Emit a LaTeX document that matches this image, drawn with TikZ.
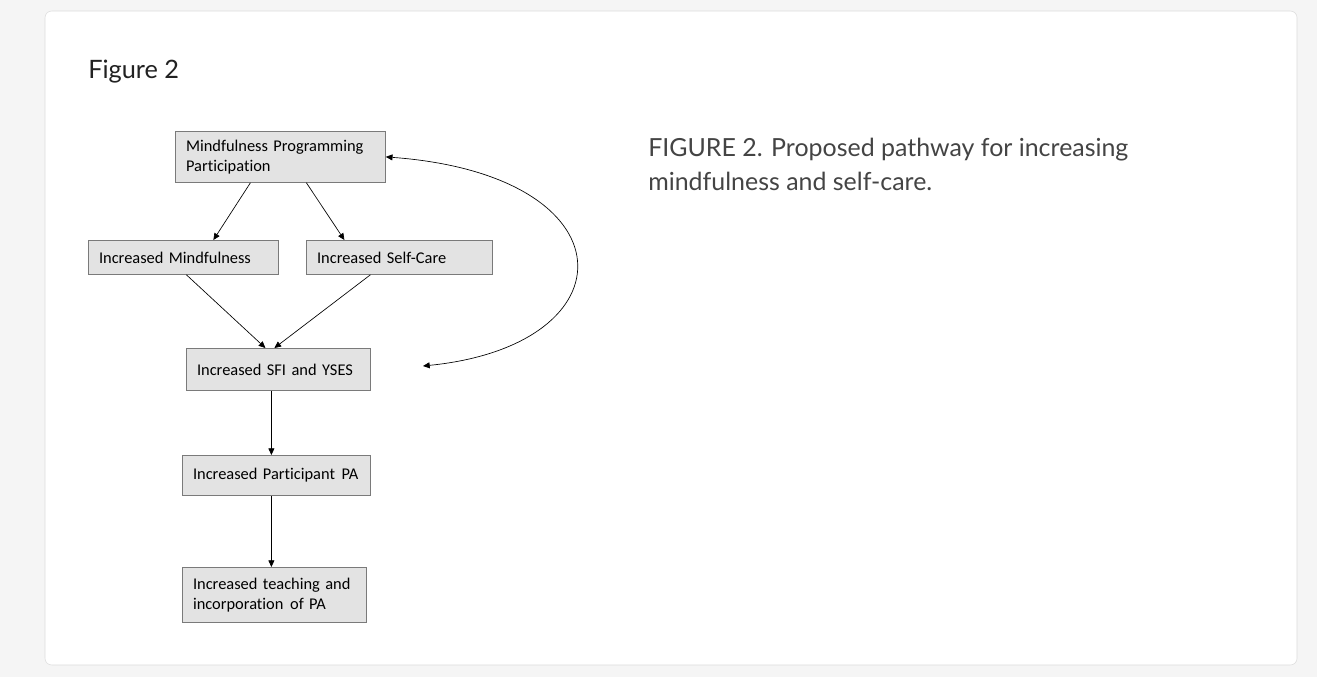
\documentclass[tikz,border=0pt]{standalone}
\usepackage{fontspec}
\setmainfont{Carlito}[Ligatures=NoCommon]
\newfontfamily\captionface{Lato}
\usetikzlibrary{arrows.meta}
\definecolor{pagegray}{HTML}{F5F5F5}
\definecolor{cardline}{HTML}{DCDCDC}
\definecolor{boxfill}{HTML}{E3E3E3}
\definecolor{boxline}{HTML}{7A7A7A}
\definecolor{captext}{HTML}{444444}
\definecolor{headtext}{HTML}{222222}
\tikzset{
	box/.style={draw=boxline,fill=boxfill,line width=0.6pt,anchor=north west,inner xsep=8pt,inner ysep=0pt,align=left,font=\fontsize{12.3}{15}\selectfont},
	link/.style={line width=0.5pt,-{Triangle[length=5pt,width=4.5pt]}},
	twoway/.style={line width=0.5pt,{Triangle[length=5pt,width=4.5pt]}-{Triangle[length=5pt,width=4.5pt]}},
	capt/.style={anchor=base west,inner sep=0pt,align=left,text=captext,font=\captionface\fontsize{18.7}{26}\selectfont}
}
\begin{document}
\begin{tikzpicture}[x=0.75pt,y=-0.75pt]
		\fill[pagegray] (0,0) rectangle (1317,677);
		\draw[cardline,fill=white,rounded corners=5pt] (45,11) rectangle (1297,665);
		\node[capt,text=headtext,font=\captionface\fontsize{19}{23}\selectfont] (figlabel) at (88,79) {Figure 2};
		\node[capt] (caption) at (648,191) {FIGURE 2. Proposed pathway for increasing\\mindfulness and self-care.};

		\node[box,text width=141.5pt,minimum height=38.25pt] (mpp) at (175,131) {Mindfulness Programming\\Participation};
		\node[box,text width=126.5pt,minimum height=25.5pt] (mind) at (88,240) {Increased Mindfulness};
		\node[box,text width=123.5pt,minimum height=25.5pt] (selfcare) at (306,240) {Increased Self-Care};
		\node[box,text width=122pt,minimum height=31.5pt] (sfi) at (186,348) {Increased SFI and YSES};
		\node[box,text width=125pt,minimum height=30pt] (pa) at (182,455) {Increased Participant\hspace{5pt}PA};
		\node[box,text width=122pt,minimum height=41.25pt] (teach) at (182,567) {Increased teaching and\\incorporation\hspace{5pt}of PA};
		\coordinate (loopend) at (423,366);

		\draw ([xshift=-22.5pt]mpp.south) [link] -- ([xshift=22.5pt]mind.north);
		\draw ([xshift=19.5pt]mpp.south) [link] -- ([xshift=-41.25pt]selfcare.north);
		\draw ([xshift=2.25pt]mind.south) [link] -- ([xshift=-9.75pt]sfi.north);
		\draw ([xshift=-21.75pt]selfcare.south) [link] -- ([xshift=-3pt]sfi.north);
		\draw ([xshift=-5.25pt]sfi.south) [link] -- ([xshift=-3.75pt]pa.north);
		\draw ([xshift=-3.75pt]pa.south) [link] -- ([xshift=-2.25pt]teach.north);
		\draw (loopend) [twoway] .. controls (633,345) and (633,175) .. (mpp.east);
\end{tikzpicture}
\end{document}
